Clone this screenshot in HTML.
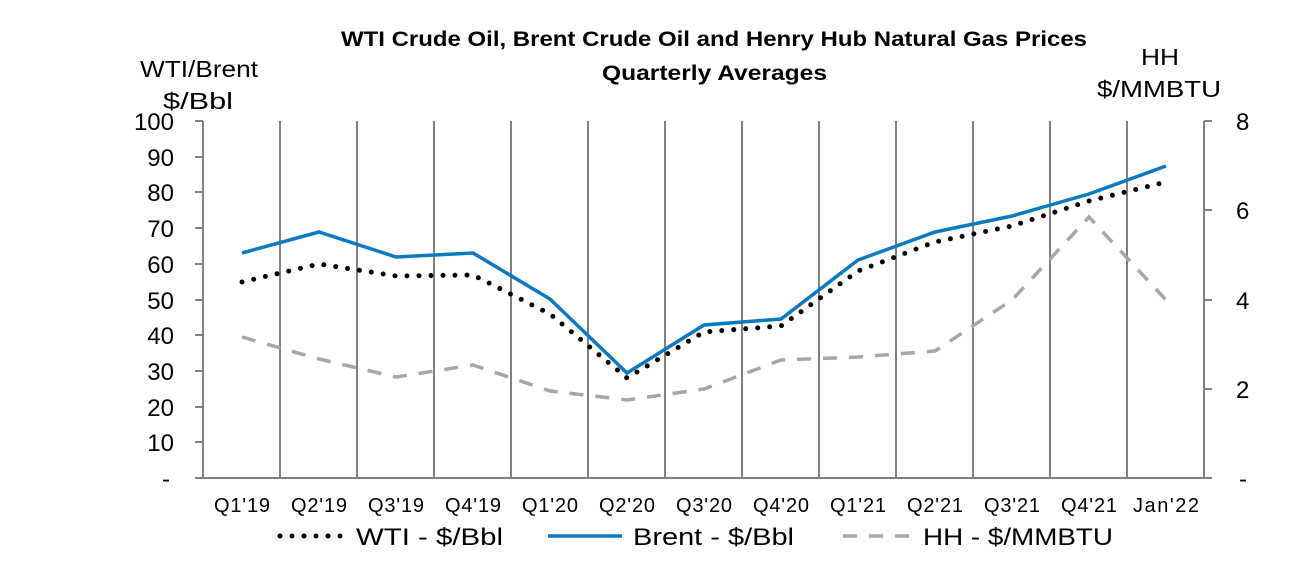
<!DOCTYPE html>
<html><head><meta charset="utf-8"><style>
body{margin:0;background:#fff;}
svg{display:block;font-family:"Liberation Sans",Arial,sans-serif;}
</style></head><body>
<svg width="1313" height="584" viewBox="0 0 1313 584">
<rect width="1313" height="584" fill="#fff"/>
<g font-weight="bold" font-size="21" fill="#000">
<text x="341" y="46" textLength="746" lengthAdjust="spacingAndGlyphs">WTI Crude Oil, Brent Crude Oil and Henry Hub Natural Gas Prices</text>
<text x="602" y="80" textLength="225" lengthAdjust="spacingAndGlyphs">Quarterly Averages</text>
</g>
<g font-size="23" fill="#000">
<text x="140" y="77" textLength="118" lengthAdjust="spacingAndGlyphs">WTI/Brent</text>
<text x="163" y="109" textLength="70" lengthAdjust="spacingAndGlyphs">$/Bbl</text>
<text x="1141" y="65" textLength="38" lengthAdjust="spacingAndGlyphs">HH</text>
<text x="1097" y="97" textLength="124" lengthAdjust="spacingAndGlyphs">$/MMBTU</text>
</g>
<g stroke="#808080" stroke-width="2">
<line x1="203" y1="121" x2="203" y2="478"/>
<line x1="1204" y1="121" x2="1204" y2="478"/>
<line x1="195" y1="478" x2="1212" y2="478"/>
<line x1="280" y1="121" x2="280" y2="478"/><line x1="357" y1="121" x2="357" y2="478"/><line x1="434" y1="121" x2="434" y2="478"/><line x1="511" y1="121" x2="511" y2="478"/><line x1="588" y1="121" x2="588" y2="478"/><line x1="665" y1="121" x2="665" y2="478"/><line x1="742" y1="121" x2="742" y2="478"/><line x1="819" y1="121" x2="819" y2="478"/><line x1="896" y1="121" x2="896" y2="478"/><line x1="973" y1="121" x2="973" y2="478"/><line x1="1050" y1="121" x2="1050" y2="478"/><line x1="1127" y1="121" x2="1127" y2="478"/>
<line x1="195" y1="121" x2="203" y2="121"/><line x1="195" y1="157" x2="203" y2="157"/><line x1="195" y1="192" x2="203" y2="192"/><line x1="195" y1="228" x2="203" y2="228"/><line x1="195" y1="264" x2="203" y2="264"/><line x1="195" y1="300" x2="203" y2="300"/><line x1="195" y1="335" x2="203" y2="335"/><line x1="195" y1="371" x2="203" y2="371"/><line x1="195" y1="407" x2="203" y2="407"/><line x1="195" y1="442" x2="203" y2="442"/>
<line x1="1204" y1="121" x2="1212" y2="121"/><line x1="1204" y1="210" x2="1212" y2="210"/><line x1="1204" y1="300" x2="1212" y2="300"/><line x1="1204" y1="389" x2="1212" y2="389"/>
</g>
<g font-size="24" fill="#000" text-anchor="end">
<text x="174" y="130">100</text><text x="174" y="166">90</text><text x="174" y="201">80</text><text x="174" y="237">70</text><text x="174" y="273">60</text><text x="174" y="309">50</text><text x="174" y="344">40</text><text x="174" y="380">30</text><text x="174" y="416">20</text><text x="174" y="451">10</text><text x="170" y="487">-</text>
</g>
<g font-size="24" fill="#000">
<text x="1236" y="130">8</text><text x="1236" y="219">6</text><text x="1236" y="309">4</text><text x="1236" y="398">2</text><text x="1239" y="487">-</text>
</g>
<g font-size="20" fill="#000" text-anchor="middle" lengthAdjust="spacingAndGlyphs">
<text x="242" y="512" textLength="56">Q1'19</text><text x="319" y="512" textLength="56">Q2'19</text><text x="396" y="512" textLength="56">Q3'19</text><text x="473" y="512" textLength="56">Q4'19</text><text x="550" y="512" textLength="56">Q1'20</text><text x="627" y="512" textLength="56">Q2'20</text><text x="704" y="512" textLength="56">Q3'20</text><text x="781" y="512" textLength="56">Q4'20</text><text x="858" y="512" textLength="56">Q1'21</text><text x="935" y="512" textLength="56">Q2'21</text><text x="1012" y="512" textLength="56">Q3'21</text><text x="1089" y="512" textLength="56">Q4'21</text><text x="1166" y="512" textLength="66">Jan'22</text>
</g>
<polyline fill="none" stroke="#A6A6A6" stroke-width="3.5" stroke-dasharray="14,12" points="242,337 319,359 396,377 473,365 550,391 627,400 704,389 781,360 858,357 935,351 1012,300 1089,217 1166,300"/>
<polyline fill="none" stroke="#0A7ABF" stroke-width="3.5" points="242,253 319,232 396,257 473,253 550,299 627,373 704,325 781,319 858,260 935,232 1012,216 1089,194 1166,166"/>
<polyline fill="none" stroke="#000" stroke-width="5" stroke-linecap="round" stroke-dasharray="0,12" points="242,282 319,264 396,276 473,275 550,314 627,378 704,332 781,326 858,271 935,242 1012,226 1089,201 1166,182"/>
<line x1="280" y1="536" x2="348" y2="536" stroke="#000" stroke-width="5" stroke-linecap="round" stroke-dasharray="0,12"/>
<text x="356" y="545" font-size="24" textLength="147" lengthAdjust="spacingAndGlyphs">WTI - $/Bbl</text>
<line x1="548" y1="536" x2="622" y2="536" stroke="#0A7ABF" stroke-width="3.5"/>
<text x="633" y="545" font-size="24" textLength="161" lengthAdjust="spacingAndGlyphs">Brent - $/Bbl</text>
<line x1="843" y1="536" x2="915" y2="536" stroke="#A6A6A6" stroke-width="3.5" stroke-dasharray="14,12"/>
<text x="923" y="545" font-size="24" textLength="190" lengthAdjust="spacingAndGlyphs">HH - $/MMBTU</text>
</svg>
</body></html>
